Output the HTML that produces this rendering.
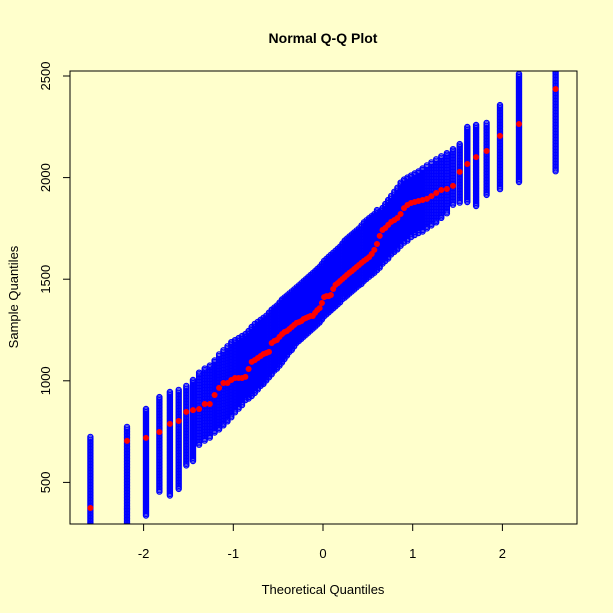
<!DOCTYPE html>
<html><head><meta charset="utf-8"><style>
html,body{margin:0;padding:0;background:#ffffcc;}
svg{display:block;font-family:"Liberation Sans",Arial,sans-serif;}
</style></head><body>
<svg id="chart" width="613" height="613" viewBox="0 0 613 613">
<rect x="0" y="0" width="613" height="613" fill="#ffffcc"/>
<defs><clipPath id="pc"><rect x="70" y="71" width="507" height="453"/></clipPath></defs>
<text x="323" y="43" text-anchor="middle" font-size="14" font-weight="bold" fill="#000">Normal Q-Q Plot</text>
<text x="323" y="594" text-anchor="middle" font-size="13" fill="#000">Theoretical Quantiles</text>
<text x="18" y="297" text-anchor="middle" font-size="13" fill="#000" transform="rotate(-90 18 297)">Sample Quantiles</text>
<g id="marks" clip-path="url(#pc)"></g>
<g id="axes"></g>
<rect x="70" y="71" width="507" height="453" fill="none" stroke="#000" stroke-width="1"/>
</svg>
<script>
const redValues=[374,704,719,748,788,802,847,856,861,886,886,930,965,989,989,1004,1014,1014,1014,1019,1058,1093,1102,1112,1122,1132,1137,1142,1186,1196,1201,1216,1230,1240,1245,1255,1265,1275,1285,1289,1294,1304,1309,1314,1319,1319,1334,1348,1358,1383,1412,1417,1417,1422,1452,1472,1481,1491,1501,1511,1521,1531,1540,1550,1560,1570,1580,1590,1599,1609,1624,1644,1673,1713,1742,1752,1767,1782,1791,1801,1821,1850,1865,1875,1880,1885,1890,1895,1909,1924,1939,1944,1959,2028,2067,2101,2131,2205,2264,2436];
const hiValues=[724,773,861,920,945,955,975,1004,1040,1060,1075,1100,1130,1150,1170,1190,1200,1210,1220,1230,1245,1265,1280,1290,1300,1310,1320,1335,1350,1360,1370,1385,1400,1410,1420,1430,1440,1450,1460,1470,1480,1490,1500,1510,1520,1530,1540,1550,1560,1575,1590,1600,1610,1620,1630,1640,1650,1660,1675,1690,1700,1710,1720,1730,1740,1750,1765,1780,1790,1800,1810,1820,1840,1830,1850,1870,1890,1910,1930,1950,1975,1990,2000,2010,2020,2030,2045,2060,2075,2090,2105,2120,2140,2165,2249,2259,2269,2357,2510,2600];
const loValues=[250,250,330,448,433,463,580,600,680,700,720,740,760,780,800,820,840,860,880,900,910,925,940,955,970,985,1000,1015,1030,1045,1060,1075,1090,1105,1120,1135,1150,1165,1180,1195,1205,1215,1225,1235,1245,1255,1265,1275,1285,1300,1315,1325,1335,1345,1355,1365,1375,1385,1395,1405,1415,1425,1435,1445,1455,1465,1475,1485,1495,1505,1515,1525,1540,1555,1570,1585,1600,1615,1630,1645,1660,1675,1690,1705,1715,1725,1735,1745,1760,1780,1800,1820,1860,1875,1875,1855,1914,1939,1973,2028];
const xTicks=[-2,-1,0,1,2];
const yTicks=[500,1000,1500,2000,2500];

function xs(q){return 323+q*90.3;}
function ys(v){return 76+(2500-v)*0.2032;}
function qnorm(p){
  const a=[-39.6968302866538,220.946098424521,-275.928510446969,138.357751867269,-30.6647980661472,2.50662827745924];
  const b=[-54.4760987982241,161.585836858041,-155.698979859887,66.8013118877197,-13.2806815528857];
  const c=[-0.00778489400243029,-0.322396458041136,-2.40075827716184,-2.54973253934373,4.37466414146497,2.93816398269878];
  const d=[0.00778469570904146,0.32246712907004,2.445134137143,3.75440866190742];
  let q,r;
  if(p<0.02425){q=Math.sqrt(-2*Math.log(p));return (((((c[0]*q+c[1])*q+c[2])*q+c[3])*q+c[4])*q+c[5])/((((d[0]*q+d[1])*q+d[2])*q+d[3])*q+1);}
  if(p>1-0.02425){q=Math.sqrt(-2*Math.log(1-p));return -(((((c[0]*q+c[1])*q+c[2])*q+c[3])*q+c[4])*q+c[5])/((((d[0]*q+d[1])*q+d[2])*q+d[3])*q+1);}
  q=p-0.5;r=q*q;
  return (((((a[0]*r+a[1])*r+a[2])*r+a[3])*r+a[4])*r+a[5])*q/(((((b[0]*r+b[1])*r+b[2])*r+b[3])*r+b[4])*r+1);
}
const NS="http://www.w3.org/2000/svg";
const marks=document.getElementById('marks');
const axes=document.getElementById('axes');
const n=redValues.length;
const blue=document.createElementNS(NS,'g');


marks.appendChild(blue);
for(let i=0;i<n;i++){
  const x=xs(qnorm((i+0.5)/n));
  const y1=ys(hiValues[i]),y2=ys(loValues[i]);
  for(let y=y1;y<=y2+0.01;y+=1.5){
    const c=document.createElementNS(NS,'circle');
    c.setAttribute('cx',x.toFixed(1));c.setAttribute('cy',y.toFixed(1));c.setAttribute('r','2.6');
    c.setAttribute('fill','none');c.setAttribute('stroke','#0000ff');c.setAttribute('stroke-width','1.2');
    
    
    blue.appendChild(c);
  }
}
const red=document.createElementNS(NS,'g');


marks.appendChild(red);
for(let i=0;i<n;i++){
  const c=document.createElementNS(NS,'circle');
  c.setAttribute('cx',xs(qnorm((i+0.5)/n)).toFixed(1));
  c.setAttribute('cy',ys(redValues[i]).toFixed(1));
  c.setAttribute('r','3');c.setAttribute('fill','#ff0000');
  
  
  red.appendChild(c);
}
xTicks.forEach(t=>{
  const x=323+t*89.7;
  const l=document.createElementNS(NS,'line');
  l.setAttribute('x1',x);l.setAttribute('x2',x);l.setAttribute('y1',524);l.setAttribute('y2',531);l.setAttribute('stroke','#000');
  
  
  axes.appendChild(l);
  const tx=document.createElementNS(NS,'text');
  tx.setAttribute('x',x);tx.setAttribute('y',558);tx.setAttribute('text-anchor','middle');tx.setAttribute('font-size','13');
  tx.textContent=t;
  
  
  axes.appendChild(tx);
});
yTicks.forEach(t=>{
  const y=ys(t);
  const l=document.createElementNS(NS,'line');
  l.setAttribute('x1',63);l.setAttribute('x2',70);l.setAttribute('y1',y);l.setAttribute('y2',y);l.setAttribute('stroke','#000');
  
  
  axes.appendChild(l);
  const tx=document.createElementNS(NS,'text');
  tx.setAttribute('x',50);tx.setAttribute('y',y);tx.setAttribute('text-anchor','middle');tx.setAttribute('font-size','13');
  tx.setAttribute('transform','rotate(-90 50 '+y+')');
  tx.textContent=t;
  
  
  axes.appendChild(tx);
});
</script>
</body></html>
